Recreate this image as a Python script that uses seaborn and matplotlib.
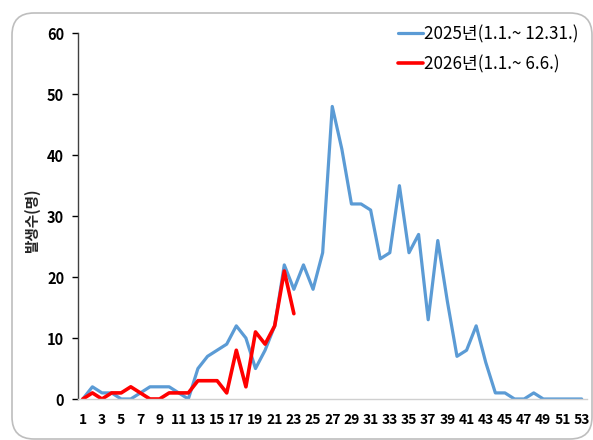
import matplotlib
matplotlib.use("Agg")
import matplotlib.pyplot as plt
from matplotlib.patches import FancyBboxPatch
import seaborn as sns
import pandas as pd

weeks_2025 = list(range(1, 54))
cases_2025 = [0, 2, 1, 1, 0, 0, 1, 2, 2, 2, 1, 0, 5, 7, 8, 9, 12, 10, 5, 8,
              12, 22, 18, 22, 18, 24, 48, 41, 32, 32, 31, 23, 24, 35, 24, 27, 13, 26, 16, 7,
              8, 12, 6, 1, 1, 0, 0, 1, 0, 0, 0, 0, 0]
weeks_2026 = list(range(1, 24))
cases_2026 = [0, 1, 0, 1, 1, 2, 1, 0, 0, 1, 1, 1, 3, 3, 3, 1, 8, 2, 11, 9,
              12, 21, 14]
label_2025 = "2025년(1.1.~ 12.31.)"
label_2026 = "2026년(1.1.~ 6.6.)"
x_ticks = list(range(1, 54, 2))
y_ticks = [0, 10, 20, 30, 40, 50, 60]
y_label = "발생수(명)"

sns.set_theme(style="white")
plt.rcParams['font.family'] = ['Noto Sans CJK KR', 'DejaVu Sans']

df = pd.DataFrame({
    "week": weeks_2025 + weeks_2026,
    "cases": cases_2025 + cases_2026,
    "series": [label_2025] * len(weeks_2025) + [label_2026] * len(weeks_2026),
})

W, H = 593, 440
fig = plt.figure(figsize=(W / 100, H / 100), dpi=100)
left, right, bottom, top = 78, 586.5, 399, 33.3
ax = fig.add_axes([left / W, 1 - bottom / H, (right - left) / W, (bottom - top) / H])

palette = {label_2025: "#5B9BD5", label_2026: "#FF0000"}
sns.lineplot(data=df, x="week", y="cases", hue="series", palette=palette,
             ax=ax, linewidth=2.3, sort=True, legend=True)
for line in ax.lines:
    if line.get_label() == label_2026 or line.get_color() == "#FF0000":
        line.set_linewidth(2.6)

ax.set_xlim(0.5, 53.5)
ax.set_ylim(0, 60)
ax.set_xticks(x_ticks)
ax.set_xticklabels([str(t) for t in x_ticks], fontsize=10, fontweight="bold")
ax.set_yticks(y_ticks)
ax.set_yticklabels([str(t) for t in y_ticks], fontsize=10.5, fontweight="bold")
ax.tick_params(axis="x", length=0, pad=10, colors="#000000")
ax.tick_params(axis="y", length=4, width=1, direction="out", pad=6, colors="#000000", left=True)
ax.set_xlabel("")
ax.set_ylabel(y_label, fontsize=10.5, fontweight="bold")
ax.yaxis.set_label_coords(-0.075, 0.487)

for s in ("top", "right"):
    ax.spines[s].set_visible(False)
ax.spines["left"].set_color("#404040")
ax.spines["left"].set_linewidth(1.0)
ax.spines["bottom"].set_color("#D0D0D0")
ax.spines["bottom"].set_linewidth(1.0)

handles, labels = ax.get_legend_handles_labels()
leg = ax.legend(handles, labels, loc="upper left",
                bbox_to_anchor=(398 / W, 1 - 25 / H), bbox_transform=fig.transFigure,
                frameon=False, fontsize=12.3, handlelength=1.45, handletextpad=0.1,
                labelspacing=0.7, borderpad=0, borderaxespad=0)
for t in leg.get_texts():
    t.set_color("#000000")

# rounded outer frame (pixel coordinates)
frame = FancyBboxPatch((12, H - 439), 580, 426, boxstyle="round,pad=0,rounding_size=22",
                       transform=None, fill=False, edgecolor="#BEBEBE", linewidth=1.2,
                       clip_on=False)
fig.patches.append(frame)

fig.savefig("out.png", dpi=100)
